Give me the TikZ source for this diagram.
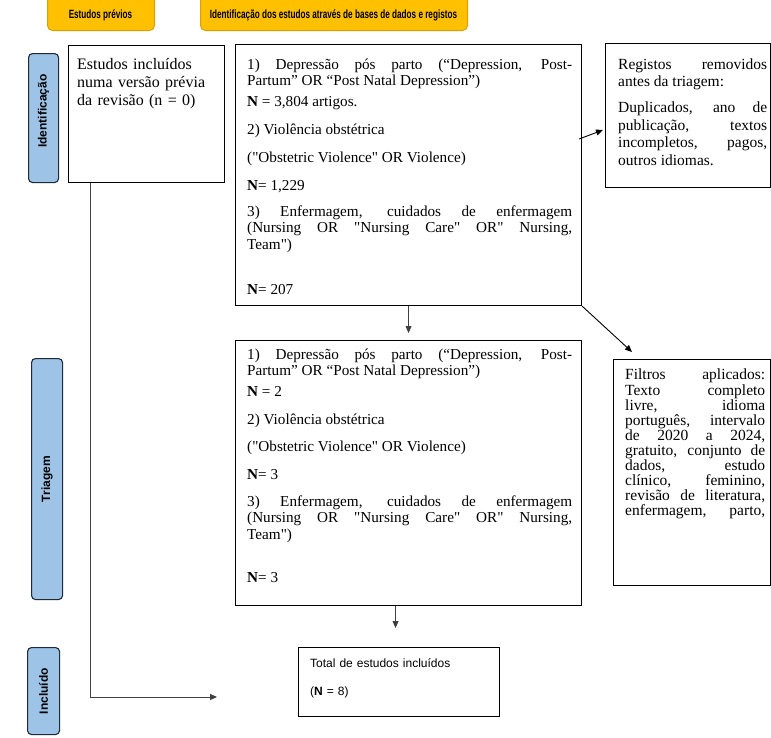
\documentclass[tikz,border=0pt]{standalone}
\usepackage{fontspec}
\setmainfont{Liberation Serif}[Ligatures=TeXOff]
\newfontfamily\arialf{Liberation Sans}[Ligatures=TeXOff]
\newfontfamily\narrowf[FakeStretch=0.68]{Liberation Sans}
\usetikzlibrary{arrows.meta}
\setlength{\parindent}{0pt}
\newcommand\pgap[1]{\par\vspace{#1pt}}
\definecolor{hdrfill}{HTML}{FFC000}
\definecolor{hdrdraw}{HTML}{D9A000}
\definecolor{sidefill}{HTML}{9DC3E6}
\definecolor{sidedraw}{HTML}{1F2A36}
\definecolor{lnk}{HTML}{404040}
\begin{document}
\begin{tikzpicture}[x=1pt, y=-1pt,
  box/.style={draw=black, line width=1.1pt, fill=white, inner sep=0, anchor=north west},
  side/.style={draw=sidedraw, line width=1.1pt, fill=sidefill, rounded corners=4pt, inner sep=0, anchor=north west},
  sidetxt/.style={rotate=90, inner sep=0, font=\arialf\bfseries\fontsize{12}{14}\selectfont},
  hdr/.style={draw=hdrdraw, line width=1pt, fill=hdrfill, rounded corners=5pt, inner sep=0, anchor=north west},
  hdrtxt/.style={inner sep=0, font=\narrowf\bfseries\fontsize{12}{14}\selectfont},
  txt/.style={anchor=north west, inner sep=0},
  arr/.style={-{Triangle[length=7pt,width=6pt]}, line width=0.9pt, draw=black},
  garr/.style={-{Triangle[length=7pt,width=6pt]}, line width=0.9pt, draw=lnk}
]
\useasboundingbox (0,0) rectangle (771,737);
\clip (0,0) rectangle (771,737);

% headers
\node[hdr, minimum width=107pt, minimum height=36pt] (h1) at (47,-6) {};
\node[hdrtxt] (h1t) at (100.5,15) {Estudos prévios};
\node[hdr, minimum width=267pt, minimum height=36pt] (h2) at (200,-6) {};
\node[hdrtxt] (h2t) at (333.5,15) {Identificação dos estudos através de bases de dados e registos};

% side labels
\node[side, minimum width=30pt, minimum height=129pt] (sid) at (28,53) {};
\node[sidetxt] (sidt) at ([shift={(0,-7)}]sid.center) {Identificação};
\node[side, minimum width=31pt, minimum height=241pt] (str) at (31,358) {};
\node[sidetxt] (strt) at (str.center) {Triagem};
\node[side, minimum width=32pt, minimum height=87pt] (sin) at (27,647) {};
\node[sidetxt] (sint) at (sin.center) {Incluído};

% boxes
\node[box, minimum width=156pt, minimum height=137pt] (prior) at (68,45) {};
\node[txt, text width=150pt, align=left, font=\fontsize{16}{18}\selectfont] (priort)
  at ([shift={(9,12)}]prior.north west)
  {\strut Estudos incluídos\\numa versão prévia\\da revisão (n = 0)};

\node[box, minimum width=346pt, minimum height=261pt] (id) at (235,44) {};
\node[txt, text width=325pt, align=justify, font=\fontsize{15.2}{16.5}\selectfont] (idt)
  at ([shift={(12,13.5)}]id.north west)
  {\strut 1) Depressão pós parto (“Depression, Post-\linebreak Partum” OR “Post Natal Depression”)\pgap{4}
   \textbf{N} = 3,804 artigos.\pgap{11.5}
   2) Violência obstétrica\pgap{11.5}
   ("Obstetric Violence" OR Violence)\pgap{11.5}
   \textbf{N}= 1,229\pgap{9.5}
   3) Enfermagem, cuidados de enfermagem\linebreak (Nursing OR "Nursing Care" OR" Nursing,\linebreak Team")\pgap{28.5}
   \textbf{N}= 207};

\node[box, minimum width=165pt, minimum height=144pt] (reg) at (605,43) {};
\node[txt, text width=149pt, align=justify, font=\fontsize{15.5}{17.5}\selectfont] (regt)
  at ([shift={(13,14)}]reg.north west)
  {\strut Registos removidos\linebreak antes da triagem:\pgap{8.5}
   Duplicados, ano de\linebreak publicação, textos\linebreak incompletos, pagos,\linebreak outros idiomas.};

\node[box, minimum width=346pt, minimum height=265pt] (scr) at (235,340) {};
\node[txt, text width=325pt, align=justify, font=\fontsize{15.2}{16.5}\selectfont] (scrt)
  at ([shift={(12,7.5)}]scr.north west)
  {\strut 1) Depressão pós parto (“Depression, Post-\linebreak Partum” OR “Post Natal Depression”)\pgap{4}
   \textbf{N} = 2\pgap{11.5}
   2) Violência obstétrica\pgap{10.5}
   ("Obstetric Violence" OR Violence)\pgap{11.5}
   \textbf{N}= 3\pgap{10.5}
   3) Enfermagem, cuidados de enfermagem\linebreak (Nursing OR "Nursing Care" OR" Nursing,\linebreak Team")\pgap{26.5}
   \textbf{N}= 3};

\node[box, minimum width=157pt, minimum height=226pt] (filt) at (613,359) {};
\node[txt, text width=140pt, align=justify, font=\fontsize{15.5}{15}\selectfont] (filtt)
  at ([shift={(12,9.5)}]filt.north west)
  {\strut Filtros aplicados:\linebreak Texto completo\linebreak livre, idioma\linebreak português, intervalo\linebreak de 2020 a 2024,\linebreak gratuito, conjunto de\linebreak dados, estudo\linebreak clínico, feminino,\linebreak revisão de literatura,\linebreak enfermagem, parto,\parfillskip=0pt\par};

\node[box, minimum width=201pt, minimum height=69pt] (tot) at (298,647) {};
\node[txt, text width=180pt, align=left, font=\arialf\fontsize{12}{28}\selectfont] (tott)
  at ([shift={(12,1)}]tot.north west)
  {\strut Total de estudos incluídos\\(\textbf{N} = 8)};

% connectors
\coordinate (inclEnd) at (217,697);
\draw[garr] ([xshift=22pt]prior.south west) |- (inclEnd);
\draw[arr] ([shift={(-3,95)}]id.north east) -- ([shift={(-2,87)}]reg.north west);
\draw[arr] (id.south east) -- ([shift={(19,-7)}]filt.north west);
\draw[garr] (id.south) -- ([yshift=7pt]scr.north);
\draw[garr] ([xshift=-3.5pt]tot.north |- scr.south) -- ([xshift=-3.5pt,yshift=19pt]tot.north);
\end{tikzpicture}
\end{document}
